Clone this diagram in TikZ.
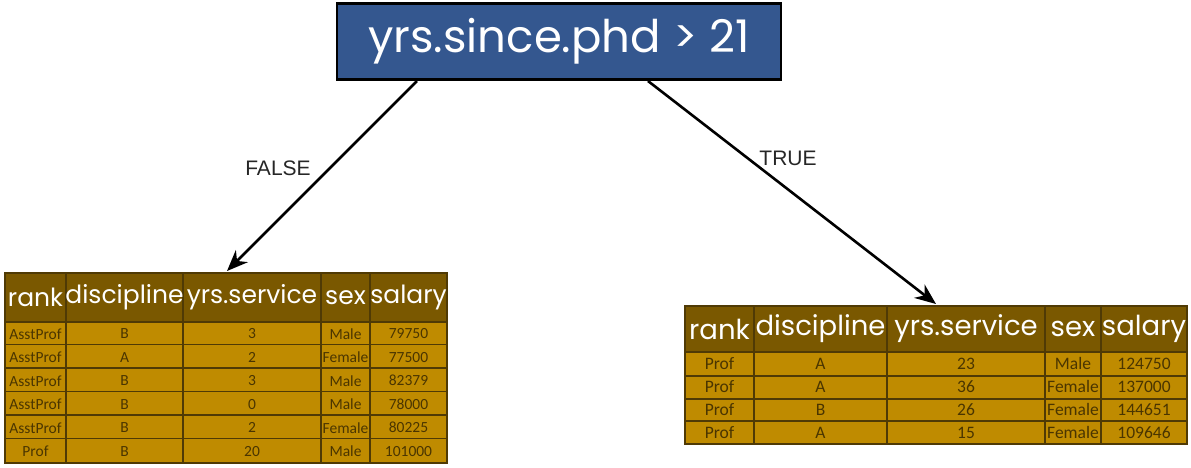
\documentclass[tikz,border=0pt]{standalone}
\usepackage{fontspec}
\setmainfont{Liberation Sans}
\newfontfamily\headfont{Poppins}
\newfontfamily\cellfont{Carlito}
\usetikzlibrary{arrows.meta}
\definecolor{nodeblue}{HTML}{34578F}
\definecolor{headbrown}{HTML}{7A5800}
\definecolor{rowgold}{HTML}{BF8B00}
\definecolor{gridbrown}{HTML}{4F3A05}
\definecolor{celltext}{HTML}{4A3500}
\tikzset{
  split/.style={draw=black, line width=2.6pt, fill=nodeblue, text=white,
    minimum width=444pt, minimum height=76pt, inner sep=0pt,
    font=\headfont\fontsize{45}{45}\selectfont},
  edge/.style={line width=2.6pt, -{Stealth[length=21pt,width=17pt]}},
  branch/.style={font=\fontsize{21}{21}\selectfont, text=black!85},
  headcell/.style={text=white, inner sep=0pt, font=\headfont\fontsize{#1}{#1}\selectfont},
  cell/.style={text=celltext, inner sep=0pt, font=\cellfont\fontsize{#1}{#1}\selectfont},
  grid/.style={draw=gridbrown, line width=1.6pt}
}
\begin{document}
\begin{tikzpicture}[x=1pt,y=-1pt]
  \useasboundingbox (0,0) rectangle (1191,467);
  \node[split] (root) at (559,41.5) {yrs.since.phd > 21};
  \coordinate (falsestart) at (417,81);
  \coordinate (truestart) at (648,81);
  \coordinate (falseend) at (227,271);
  \coordinate (trueend) at (936,304);
  \draw[edge] (falsestart) -- (falseend);
  \draw[edge] (truestart) -- (trueend);
  \node[branch] (falselbl) at (278,168.5) {FALSE};
  \node[branch] (truelbl) at (788,158) {TRUE};
  % left table
  \fill[headbrown] (5,273) rectangle (447,322);
  \fill[rowgold] (5,322) rectangle (447,463);
  \foreach \y in {322,344.5,368,391.5,415,438.5}
    \draw[grid] (5,\y) -- (447,\y);
  \foreach \x in {66,183,321,370}
    \draw[grid] (\x,273) -- (\x,463);
  \draw[grid] (5,273) rectangle (447,463);
  \foreach \x/\t in {35.5/rank,124.5/discipline,252/yrs.service,345.5/sex,408.5/salary}
    \node[headcell=25] at (\x,297.5) {\t};
  \foreach \r/\d/\s/\g/\m [count=\i] in {AsstProf/B/3/Male/79750,
      AsstProf/A/2/Female/77500, AsstProf/B/3/Male/82379,
      AsstProf/B/0/Male/78000, AsstProf/B/2/Female/80225,
      Prof/B/20/Male/101000}{
    \pgfmathsetmacro\yy{322+(\i-0.5)*23.5}
    \node[cell=15.5] at (35.5,\yy) {\r};
    \node[cell=15.5] at (124.5,\yy) {\d};
    \node[cell=15.5] at (252,\yy) {\s};
    \node[cell=15.5] at (345.5,\yy) {\g};
    \node[cell=15.5] at (408.5,\yy) {\m};
  }
  % right table
  \fill[headbrown] (685,306) rectangle (1187,352);
  \fill[rowgold] (685,352) rectangle (1187,444);
  \foreach \y in {352,376,399,421}
    \draw[grid] (685,\y) -- (1187,\y);
  \foreach \x in {754,887,1045,1101}
    \draw[grid] (\x,306) -- (\x,444);
  \draw[grid] (685,306) rectangle (1187,444);
  \foreach \x/\t in {719.5/rank,820.5/discipline,966/yrs.service,1073/sex,1144/salary}
    \node[headcell=27.5] at (\x,329) {\t};
  \foreach \r/\d/\s/\g/\m [count=\i] in {Prof/A/23/Male/124750,
      Prof/A/36/Female/137000, Prof/B/26/Female/144651,
      Prof/A/15/Female/109646}{
    \pgfmathsetmacro\yy{352+(\i-0.5)*23}
    \node[cell=17.5] at (719.5,\yy) {\r};
    \node[cell=17.5] at (820.5,\yy) {\d};
    \node[cell=17.5] at (966,\yy) {\s};
    \node[cell=17.5] at (1073,\yy) {\g};
    \node[cell=17.5] at (1144,\yy) {\m};
  }
\end{tikzpicture}
\end{document}
